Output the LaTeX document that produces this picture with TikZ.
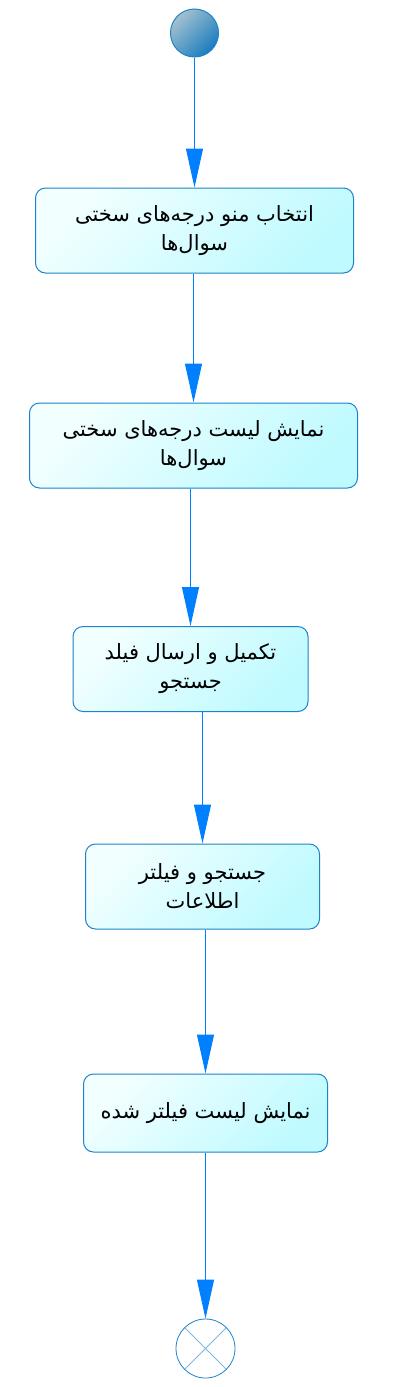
\documentclass[tikz,border=0pt]{standalone}
\usepackage{fontspec}
\usepackage{tikz}
\usetikzlibrary{arrows.meta}
\newfontfamily\arabicfont[Script=Arabic]{DejaVu Sans}
\TeXXeTstate=1
\newcommand{\fa}[1]{\beginR #1\endR}
\definecolor{flowblue}{RGB}{0,128,255}
\definecolor{edgeblue}{RGB}{30,130,200}
\definecolor{boxlight}{RGB}{242,255,255}
\definecolor{boxdark}{RGB}{190,250,255}
\definecolor{startlight}{RGB}{165,192,208}
\definecolor{startdark}{RGB}{25,125,190}
\definecolor{crossblue}{RGB}{125,185,225}

\begin{document}
\begin{tikzpicture}[x=1pt,y=-1pt,
  act/.style={draw=edgeblue, line width=1pt, rounded corners=10pt, minimum height=85pt, inner sep=0pt, align=center,
    font=\arabicfont\fontsize{21}{29}\selectfont, top color=boxlight, bottom color=boxdark, shading angle=45},
  startnode/.style={circle, draw=edgeblue, line width=1pt, minimum size=48pt, inner sep=0pt,
    top color=startlight, bottom color=startdark, shading angle=45},
  endnode/.style={circle, draw=edgeblue, line width=0.8pt, minimum size=59pt, inner sep=0pt, fill=white,
    path picture={\draw[crossblue, line width=0.8pt] (path picture bounding box.north west) -- (path picture bounding box.south east)
      (path picture bounding box.north east) -- (path picture bounding box.south west);}},
  flow/.style={flowblue, line width=1pt, -{Triangle[length=39pt,width=17pt]}}]
\useasboundingbox (0,0) rectangle (402,1387);

\node[startnode] (start) at (194.5,33) {};
\node[act, minimum width=318pt] (a1) at (194.5,230.5) {\fa{انتخاب منو درجه^^^^200cهای سختی}\\\fa{سوال^^^^200cها}};
\node[act, minimum width=328pt] (a2) at (193.5,445.5) {\fa{نمایش لیست درجه^^^^200cهای سختی}\\\fa{سوال^^^^200cها}};
\node[act, minimum width=235pt] (a3) at (190.5,669) {\fa{تکمیل و ارسال فیلد}\\\fa{جستجو}};
\node[act, minimum width=234pt] (a4) at (202.5,886.5) {\fa{جستجو و فیلتر}\\\fa{اطلاعات}};
\node[act, minimum width=244pt, minimum height=78pt] (a5) at (205.5,1113) {\fa{نمایش لیست فیلتر شده}};
\node[endnode] (fin) at (205.5,1348.5) {};

\foreach \s/\t in {start/a1,a1/a2,a2/a3,a3/a4,a4/a5,a5/fin}
	\draw[flow] (\s.south -| \t.north) -- (\t.north);
\end{tikzpicture}
\end{document}
